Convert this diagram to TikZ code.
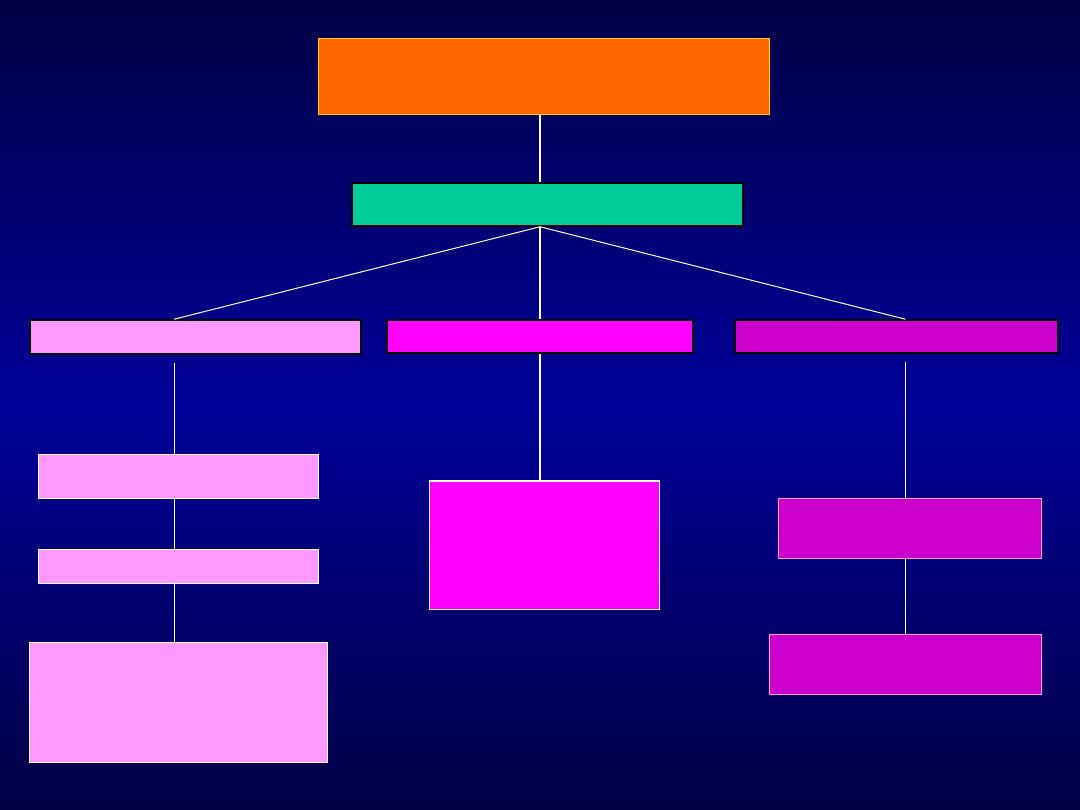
\documentclass[tikz,border=0pt]{standalone}
\usepackage{tikz}

\definecolor{bgdark}{HTML}{000044}
\definecolor{bgmid}{HTML}{000099}
\definecolor{orangebox}{HTML}{FF6600}
\definecolor{yellowline}{HTML}{FFCC33}
\definecolor{tealbox}{HTML}{00CC99}
\definecolor{pinkbox}{HTML}{FF99FF}
\definecolor{magbox}{HTML}{FF00FF}
\definecolor{purpbox}{HTML}{CC00CC}

\tikzset{
  box/.style={rectangle, inner sep=0pt, line width=1pt},
  link/.style={draw=white, line width=1pt},
  trunk/.style={draw=white, line width=1.6pt}
}

\begin{document}
\begin{tikzpicture}[x=1pt, y=-1pt]

          \shade[top color=bgdark, bottom color=bgdark, middle color=bgmid] (0,0) rectangle (1080,810);
          \useasboundingbox (0,0) rectangle (1080,810);

          % top two levels
          \node[box, fill=orangebox, draw=yellowline, minimum width=451pt, minimum height=76pt] (head) at (543.5,77) {};
          \node[box, fill=tealbox, draw=black, line width=1.5pt, minimum width=391pt, minimum height=43pt] (sub) at (547.5,204.5) {};

          % second row
          \node[box, fill=pinkbox, draw=black, line width=1.5pt, minimum width=331pt, minimum height=34pt] (left) at (195.5,337) {};
          \node[box, fill=magbox, draw=black, line width=1.5pt, minimum width=306pt, minimum height=33pt] (mid) at (540,336.5) {};
          \node[box, fill=purpbox, draw=black, line width=1.5pt, minimum width=323pt, minimum height=33pt] (right) at (896.5,336.5) {};

          % left column
          \node[box, fill=pinkbox, draw=white, minimum width=280pt, minimum height=43pt] (leftA) at (178,476.5) {};
          \node[box, fill=pinkbox, draw=white, minimum width=280pt, minimum height=34pt] (leftB) at (178,566) {};
          \node[box, fill=pinkbox, draw=white, minimum width=298pt, minimum height=120pt] (leftC) at (178,702) {};

          % middle column
          \node[box, fill=magbox, draw=white, minimum width=230pt, minimum height=128pt] (midA) at (544,545) {};

          % right column
          \node[box, fill=purpbox, draw=pinkbox, minimum width=263pt, minimum height=60pt] (rightA) at (909.5,528) {};
          \node[box, fill=purpbox, draw=pinkbox, minimum width=272pt, minimum height=60pt] (rightB) at (905,664) {};

          \coordinate (lx) at (174,0);
          \coordinate (mx) at (540,0);
          \coordinate (rx) at (905.5,0);

          % connectors
          \draw[trunk] (head.south -| mx) -- (sub.north -| mx);
          \draw[link] (sub.south -| mx) -- (left.north -| lx);
          \draw[trunk] (sub.south -| mx) -- (mid.north -| mx);
          \draw[link] (sub.south -| mx) -- (right.north -| rx);

          \draw[link] ([yshift=-8pt]left.south -| lx) -- (leftA.north -| lx);
          \draw[link] (leftA.south -| lx) -- (leftB.north -| lx);
          \draw[link] (leftB.south -| lx) -- (leftC.north -| lx);

          \draw[trunk] (mid.south -| mx) -- (midA.north -| mx);

          \draw[link] ([yshift=-8pt]right.south -| rx) -- (rightA.north -| rx);
          \draw[link] (rightA.south -| rx) -- (rightB.north -| rx);

\end{tikzpicture}
\end{document}
